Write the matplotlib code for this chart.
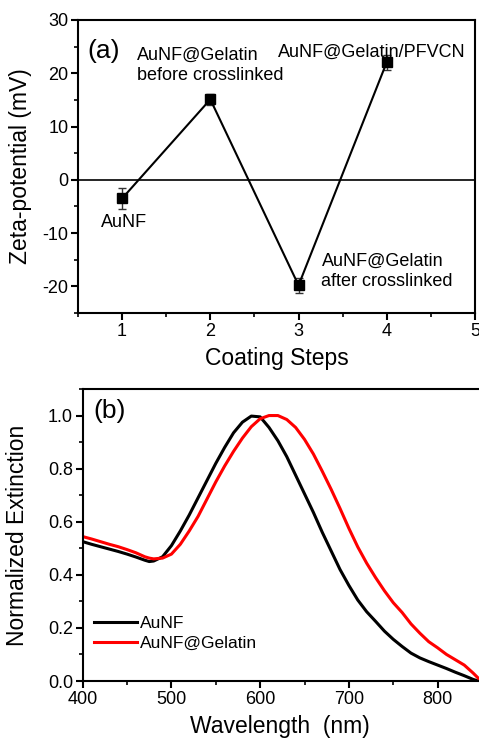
import matplotlib
matplotlib.use("Agg")
import matplotlib.pyplot as plt
from matplotlib.ticker import MultipleLocator

plt.rcParams['font.family'] = ['Liberation Sans', 'DejaVu Sans']
plt.rcParams['axes.unicode_minus'] = False

# ---- Panel (a) data ----
steps = [1, 2, 3, 4]
zeta = [-3.5, 15.1, -19.8, 22.1]
zeta_err = [2.0, 1.1, 1.4, 1.4]
step_labels = ["AuNF", "AuNF@Gelatin\nbefore crosslinked",
               "AuNF@Gelatin\nafter crosslinked", "AuNF@Gelatin/PFVCN"]

# ---- Panel (b) data ----
wl = [400, 410, 420, 430, 440, 450, 460, 470, 475, 480, 490, 500, 510, 520,
      530, 540, 550, 560, 570, 580, 590, 600, 610, 620, 630, 640, 650, 660,
      670, 680, 690, 700, 710, 720, 730, 740, 750, 760, 770, 780, 790, 800,
      810, 820, 830, 840, 846]
ext_aunf = [0.525, 0.515, 0.506, 0.497, 0.488, 0.478, 0.467, 0.455, 0.450,
            0.452, 0.468, 0.510, 0.565, 0.625, 0.690, 0.755, 0.820, 0.880,
            0.935, 0.975, 0.998, 0.995, 0.955, 0.905, 0.845, 0.775, 0.705,
            0.635, 0.560, 0.490, 0.420, 0.360, 0.305, 0.261, 0.225, 0.188,
            0.157, 0.130, 0.105, 0.087, 0.073, 0.060, 0.047, 0.033, 0.020,
            0.006, 0.000]
ext_gel = [0.544, 0.535, 0.525, 0.515, 0.506, 0.495, 0.483, 0.468, 0.463,
           0.460, 0.463, 0.478, 0.515, 0.565, 0.620, 0.685, 0.750, 0.810,
           0.865, 0.915, 0.958, 0.988, 1.000, 1.000, 0.985, 0.955, 0.910,
           0.855, 0.790, 0.722, 0.650, 0.575, 0.505, 0.444, 0.390, 0.340,
           0.295, 0.258, 0.215, 0.180, 0.148, 0.125, 0.100, 0.080, 0.060,
           0.030, 0.010]

W, H = 479, 739
fig = plt.figure(figsize=(W / 100, H / 100), dpi=100)

def frac(l, t, r, b):
    return [l / W, 1 - b / H, (r - l) / W, (b - t) / H]

def style(ax):
    for s in ax.spines.values():
        s.set_linewidth(1.5)
    ax.tick_params(which='major', direction='out', length=5, width=1.5,
                   labelsize=13, pad=2)
    ax.tick_params(which='minor', direction='out', length=3, width=1.2)

# Panel (a)
axa = fig.add_axes(frac(78, 20, 475, 313))
style(axa)
axa.axhline(0, color='black', lw=1.2, zorder=1)
axa.errorbar(steps, zeta, yerr=zeta_err, color='black', lw=1.5, marker='s',
             markersize=7, ecolor='#333333', elinewidth=1, capsize=3,
             capthick=1, zorder=3)
axa.set_xlim(0.5, 5)
axa.set_ylim(-25, 30)
axa.xaxis.set_major_locator(MultipleLocator(1))
axa.xaxis.set_minor_locator(MultipleLocator(0.5))
axa.yaxis.set_major_locator(MultipleLocator(10))
axa.yaxis.set_minor_locator(MultipleLocator(5))
axa.set_xlabel("Coating Steps", fontsize=16.5)
axa.set_ylabel("Zeta-potential (mV)", fontsize=16.5)
axa.xaxis.set_label_coords(0.5, -0.154)
axa.xaxis.label.set_va('center')
axa.yaxis.set_label_coords(-0.146, 0.5)
axa.yaxis.label.set_va('center')
axa.text(0.023, 0.894, "(a)", transform=axa.transAxes, fontsize=19,
         ha='left', va='center')
axa.text(1.023, -8.1, step_labels[0], fontsize=13, ha='center', va='center')
axa.text(1.165, 21.4, step_labels[1], fontsize=13, ha='left', va='center',
         linespacing=1.25)
axa.text(3.26, -17.25, step_labels[2], fontsize=13, ha='left', va='center',
         linespacing=1.25)
axa.text(2.768, 23.9, step_labels[3], fontsize=13, ha='left', va='center')

# Panel (b) (right edge cropped by the figure, as in the original)
axb = fig.add_axes(frac(82.7, 389, 482, 681))
style(axb)
axb.plot(wl, ext_aunf, color='black', lw=2.2, label='AuNF')
axb.plot(wl, ext_gel, color='#ff0000', lw=2.2, label='AuNF@Gelatin')
axb.set_xlim(400, 850)
axb.set_ylim(0, 1.1)
axb.xaxis.set_major_locator(MultipleLocator(100))
axb.xaxis.set_minor_locator(MultipleLocator(50))
axb.yaxis.set_major_locator(MultipleLocator(0.2))
axb.yaxis.set_minor_locator(MultipleLocator(0.1))
axb.yaxis.set_major_formatter(matplotlib.ticker.FormatStrFormatter('%.1f'))
axb.set_xlabel("Wavelength  (nm)", fontsize=16.5)
axb.set_ylabel("Normalized Extinction", fontsize=16.5)
axb.xaxis.set_label_coords(0.495, -0.156)
axb.xaxis.label.set_va('center')
axb.yaxis.set_label_coords(-0.163, 0.5)
axb.yaxis.label.set_va('center')
axb.text(0.026, 0.925, "(b)", transform=axb.transAxes, fontsize=19,
         ha='left', va='center')
axb.legend(loc='center left', bbox_to_anchor=(0.0285, 0.163), frameon=False,
           fontsize=12.5, handlelength=2.5, handletextpad=0.15,
           labelspacing=0.25, borderpad=0, borderaxespad=0)

fig.savefig("out.png", dpi=100)
